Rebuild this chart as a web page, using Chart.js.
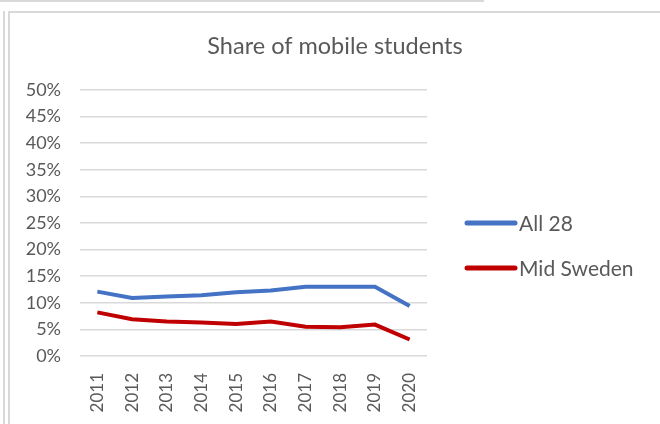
<!DOCTYPE html>
<html>
<head>
<meta charset="utf-8">
<script src="https://cdn.jsdelivr.net/npm/chart.js@4"></script>
<style>
  html, body { margin: 0; padding: 0; background: #fff; }
  body { width: 660px; height: 424px; position: relative; overflow: hidden; }
  .frame { position: absolute; background: #d9d9d9; }
  #wrap { position: absolute; left: 11px; top: 14px; width: 649px; height: 410px; }
</style>
</head>
<body>
<div class="frame" style="left:0;top:0;width:484px;height:2px"></div>
<div class="frame" style="left:8px;top:11px;width:652px;height:2px"></div>
<div class="frame" style="left:3px;top:11px;width:2px;height:413px"></div>
<div class="frame" style="left:8px;top:11px;width:2px;height:413px"></div>
<div id="wrap"><canvas id="myChart"></canvas></div>
<script>
// data
const years = ["2011", "2012", "2013", "2014", "2015", "2016", "2017", "2018", "2019", "2020"];
const all28 = [12.1, 10.9, 11.2, 11.4, 12.0, 12.3, 13.0, 13.0, 13.0, 9.4];
const midSweden = [8.2, 6.9, 6.5, 6.3, 6.0, 6.5, 5.5, 5.4, 5.9, 3.1];
const seriesNames = ["All 28", "Mid Sweden"];
const chartTitle = "Share of mobile students";

const grey = "#595959";
const fontFamily = "Lato, 'Open Sans', sans-serif";
Chart.defaults.font.family = fontFamily;
Chart.defaults.color = grey;

// title and legend drawn by hand: title centred on the whole box,
// legend so the long label is not cut off
const sideLegend = {
    id: "sideLegend",
    afterDraw(chart) {
        const ctx = chart.ctx;
        const area = chart.chartArea;
        const midY = (area.top + area.bottom) / 2;
        ctx.save();
        ctx.fillStyle = grey;
        ctx.font = "23.5px " + fontFamily;
        ctx.textAlign = "center";
        ctx.textBaseline = "middle";
        ctx.fillText(chartTitle, 324, 32);

        ctx.textAlign = "left";
        ctx.font = "21px " + fontFamily;
        ctx.lineCap = "round";
        chart.data.datasets.forEach((ds, i) => {
            const y = midY + i * 45;
            ctx.strokeStyle = ds.borderColor;
            ctx.lineWidth = 5;
            ctx.beginPath();
            ctx.moveTo(area.right + 40, y);
            ctx.lineTo(area.right + 88, y);
            ctx.stroke();
            ctx.fillText(ds.label, area.right + 92, y + 1);
        });
        ctx.restore();
    }
};

new Chart("myChart", {
    type: "line",
    data: {
        labels: years,
        datasets: [{
            label: seriesNames[0],
            data: all28,
            borderColor: "#4472C4",
            backgroundColor: "#4472C4",
            borderWidth: 4,
            pointRadius: 0,
            tension: 0
        }, {
            label: seriesNames[1],
            data: midSweden,
            borderColor: "#C00000",
            backgroundColor: "#C00000",
            borderWidth: 4,
            pointRadius: 0,
            tension: 0
        }]
    },
    options: {
        responsive: true,
        maintainAspectRatio: false,
        animation: false,
        layout: { padding: { left: 0, right: 233, top: 76, bottom: 0 } },
        plugins: {
            title: { display: false },
            legend: { display: false },
            tooltip: { enabled: false }
        },
        scales: {
            x: {
                offset: true,
                grid: { display: false },
                border: { display: false },
                afterFit: s => { s.height = 68; },
                ticks: {
                    minRotation: 90,
                    maxRotation: 90,
                    padding: 9,
                    font: { size: 17 },
                    color: grey
                }
            },
            y: {
                min: 0,
                max: 50,
                border: { display: false },
                grid: { color: "#d9d9d9", lineWidth: 1.5, drawTicks: false },
                afterFit: s => { s.width = 69; },
                ticks: {
                    stepSize: 5,
                    padding: 19,
                    font: { size: 18 },
                    color: grey,
                    callback: v => v + "%"
                }
            }
        }
    },
    plugins: [sideLegend]
});
</script>
</body>
</html>
